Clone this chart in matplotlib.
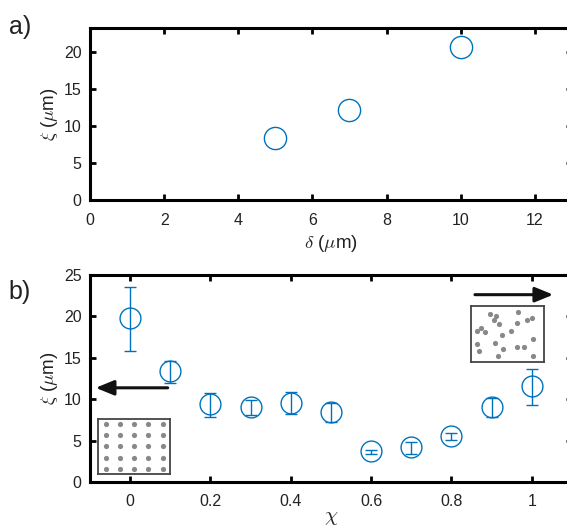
import numpy as np
import matplotlib.pyplot as plt

plt.rcParams['font.family'] = ['Liberation Sans', 'DejaVu Sans']
plt.rcParams['mathtext.fontset'] = 'cm'

blue = '#0072BD'

# panel a
delta = [5, 7, 10]
xi_a = [8.3, 12.2, 20.7]

# panel b
chi = [0.0, 0.1, 0.2, 0.3, 0.4, 0.5, 0.6, 0.7, 0.8, 0.9, 1.0]
xi_b = [19.8, 13.4, 9.4, 9.1, 9.6, 8.4, 3.7, 4.2, 5.6, 9.0, 11.6]
err_lo = [15.8, 11.9, 7.9, 8.1, 8.2, 7.2, 3.4, 3.4, 5.1, 7.8, 9.3]
err_hi = [23.5, 14.6, 10.8, 9.9, 10.9, 9.5, 3.9, 4.8, 5.95, 10.1, 13.6]

# random-configuration inset (normalised coords)
rand_u = [0.267, 0.346, 0.323, 0.382, 0.645, 0.636, 0.765, 0.839, 0.143, 0.088, 0.198,
          0.424, 0.544, 0.083, 0.336, 0.442, 0.111, 0.378, 0.631, 0.728, 0.853, 0.853]
rand_v = [0.863, 0.821, 0.744, 0.685, 0.893, 0.696, 0.744, 0.792, 0.613, 0.554, 0.536,
          0.488, 0.554, 0.315, 0.333, 0.226, 0.196, 0.113, 0.268, 0.268, 0.405, 0.113]


def style(ax):
    for s in ax.spines.values():
        s.set_linewidth(2.2)
    ax.tick_params(direction='in', length=4, width=2, top=True, right=True,
                   labelsize=11.5, labelcolor='#222222')
    ax.tick_params(axis='x', pad=9)
    ax.tick_params(axis='y', pad=6)


fig = plt.figure(figsize=(5.67, 5.30), dpi=100)

ax1 = fig.add_axes([0.1587, 0.6226, 0.85, 0.3245])
ax1.plot(delta, xi_a, 'o', mfc='none', mec=blue, ms=16, mew=1.0)
ax1.set_xlim(0, 13)
ax1.set_ylim(0, 23.2)
ax1.set_xticks([0, 2, 4, 6, 8, 10, 12])
ax1.set_yticks([0, 5, 10, 15, 20])
ax1.set_xlabel(r'$\delta$ ($\mu$m)', fontsize=13.5, labelpad=4, color='#222222')
ax1.set_ylabel(r'$\xi$ ($\mu$m)', fontsize=13.5, labelpad=3, color='#222222')
style(ax1)

ax2 = fig.add_axes([0.1587, 0.0906, 0.85, 0.3905])
yerr = [np.array(xi_b) - np.array(err_lo), np.array(err_hi) - np.array(xi_b)]
ax2.errorbar(chi, xi_b, yerr=yerr, fmt='o', mfc='none', mec=blue, ms=15, mew=1.0,
             ecolor=blue, elinewidth=1.0, capsize=4.5, capthick=2.0)
ax2.set_xlim(-0.1, 1.1)
ax2.set_ylim(0, 25)
ax2.set_xticks([0, 0.2, 0.4, 0.6, 0.8, 1])
ax2.set_xticklabels(['0', '0.2', '0.4', '0.6', '0.8', '1'])
ax2.set_yticks([0, 5, 10, 15, 20, 25])
ax2.set_xlabel(r'$\chi$', fontsize=15, labelpad=-1, color='#222222')
ax2.set_ylabel(r'$\xi$ ($\mu$m)', fontsize=13.5, labelpad=3, color='#222222')
style(ax2)

# arrows
ax2.annotate('', xy=(0.006, 0.455), xytext=(0.167, 0.455), xycoords='axes fraction',
             arrowprops=dict(arrowstyle='-|>,head_length=1.1,head_width=0.45', lw=2.2, color='#111111'))
ax2.annotate('', xy=(0.967, 0.905), xytext=(0.793, 0.905), xycoords='axes fraction',
             arrowprops=dict(arrowstyle='-|>,head_length=1.1,head_width=0.45', lw=2.2, color='#111111'))

# lattice inset
ins1 = ax2.inset_axes([0.0167, 0.0386, 0.15, 0.266])
gx, gy = np.meshgrid(np.arange(5), np.arange(5))
ins1.scatter(gx.ravel(), gy.ravel(), s=14, color='#888888', lw=0)
ins1.set_xlim(-0.55, 4.55)
ins1.set_ylim(-0.45, 4.45)

# random inset
ins2 = ax2.inset_axes([0.79, 0.58, 0.152, 0.27])
ins2.scatter(rand_u, rand_v, s=14, color='#888888', lw=0)
ins2.set_xlim(0, 1)
ins2.set_ylim(0, 1)

for ins in (ins1, ins2):
    ins.set_xticks([])
    ins.set_yticks([])
    for s in ins.spines.values():
        s.set_linewidth(1.3)
        s.set_color('#444444')

fig.text(0.015, 0.935, 'a)', fontsize=18, color='#222222')
fig.text(0.015, 0.435, 'b)', fontsize=18, color='#222222')

fig.savefig('out.png', dpi=100)
